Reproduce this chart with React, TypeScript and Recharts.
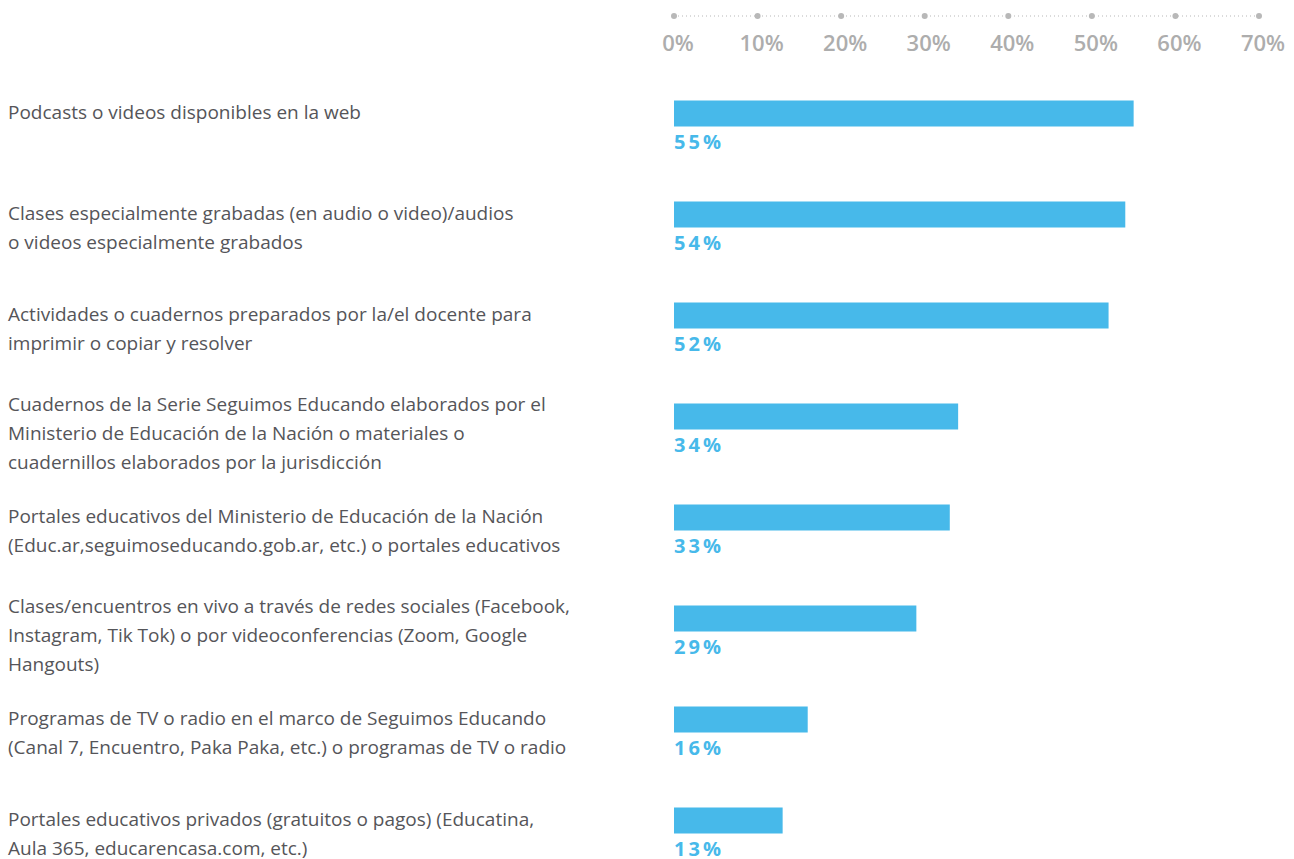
import { BarChart, Bar, XAxis, YAxis, LabelList } from 'recharts';

const categories = [
  'Podcasts o videos disponibles en la web',
  'Clases especialmente grabadas (en audio o video)/audios\no videos especialmente grabados',
  'Actividades o cuadernos preparados por la/el docente para\nimprimir o copiar y resolver',
  'Cuadernos de la Serie Seguimos Educando elaborados por el\nMinisterio de Educación de la Nación o materiales o\ncuadernillos elaborados por la jurisdicción',
  'Portales educativos del Ministerio de Educación de la Nación\n(Educ.ar,seguimoseducando.gob.ar, etc.) o portales educativos',
  'Clases/encuentros en vivo a través de redes sociales (Facebook,\nInstagram, Tik Tok) o por videoconferencias (Zoom, Google\nHangouts)',
  'Programas de TV o radio en el marco de Seguimos Educando\n(Canal 7, Encuentro, Paka Paka, etc.) o programas de TV o radio',
  'Portales educativos privados (gratuitos o pagos) (Educatina,\nAula 365, educarencasa.com, etc.)',
];
const values = [55, 54, 52, 34, 33, 29, 16, 13];
const xTicks = [0, 10, 20, 30, 40, 50, 60, 70];

const data = categories.map((name, i) => ({ name, value: values[i] }));

const FONT = '"Open Sans", sans-serif';
const BLUE = '#47b9ea';

function XTick({ x, y, payload }: any) {
  return (
    <g>
      <circle cx={x} cy={y} r={3} fill="#b8b8b8" />
      <text x={x + 4} y={y + 35} textAnchor="middle" fill="#adadad" fontSize={22} fontWeight={600} fontFamily={FONT}>
        {payload.value}%
      </text>
    </g>
  );
}

function YTick({ y, payload }: any) {
  const lines = String(payload.value).split('\n');
  const start = lines.length === 3 ? -11 : 0;
  return (
    <text x={8} y={y + start} fill="#555559" fontSize={19} fontFamily={FONT}>
      {lines.map((l, i) => (
        <tspan key={i} x={8} dy={i === 0 ? 6 : 29}>{l}</tspan>
      ))}
    </text>
  );
}

function ValueLabel({ x, y, height, value }: any) {
  return (
    <text x={x} y={y + height + 22} fill={BLUE} fontSize={20} fontWeight={700} letterSpacing={3} fontFamily={FONT}>
      {value}%
    </text>
  );
}

export default function App() {
  return (
    <div style={{ position: 'absolute', left: 0, top: 0, width: 1294, height: 859, overflow: 'hidden', background: '#fff' }}>
      <BarChart
        width={1294}
        height={880}
        data={data}
        layout="vertical"
        margin={{ top: 0, right: 35, bottom: 9.5, left: 0 }}
      >
        <XAxis
          type="number"
          orientation="top"
          domain={[0, 70]}
          ticks={xTicks}
          height={16}
          tickSize={0}
          tickMargin={0}
          axisLine={{ stroke: '#b8b8b8', strokeDasharray: '1 3', strokeWidth: 1.2 }}
          tickLine={false}
          tick={<XTick />}
          interval={0}
        />
        <YAxis
          type="category"
          dataKey="name"
          width={674}
          axisLine={false}
          tickLine={false}
          tick={<YTick />}
          padding={{ top: 46.5, bottom: 0 }}
          interval={0}
        />
        <Bar dataKey="value" fill={BLUE} barSize={26} isAnimationActive={false}>
          <LabelList dataKey="value" content={<ValueLabel />} />
        </Bar>
      </BarChart>
    </div>
  );
}
